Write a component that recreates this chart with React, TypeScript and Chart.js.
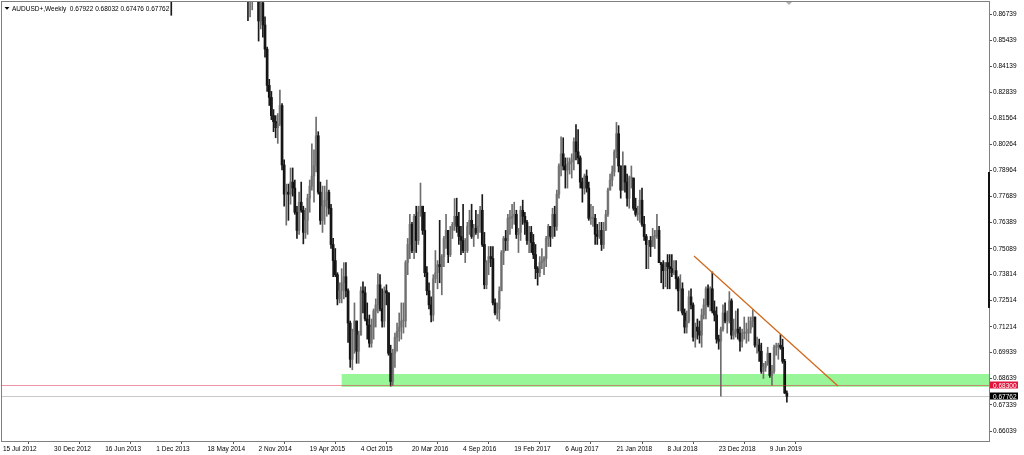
import React, { useEffect, useRef } from "react";
import { Chart, registerables } from "chart.js";

Chart.register(...registerables);

// ---- Data (weekly AUDUSD+, week 0 = week of 15 Jul 2012) ----
const symbolTitle = "AUDUSD+,Weekly";
const firstOpen = 1.033;

const closes = [
  1.0390, 1.0440, 1.0550, 1.0575, 1.0465, 1.0410, 1.0320, 1.0370, 1.0560, 1.0440,
  1.0380, 1.0240, 1.0285, 1.0330, 1.0385, 1.0370, 1.0395, 1.0395, 1.0480, 1.0440,
  1.0495, 1.0520, 1.0470, 1.0390, 1.0515, 1.0550, 1.0510, 1.0440, 1.0425, 1.0290,
  1.0330, 1.0260, 1.0200, 1.0250, 1.0420, 1.0455, 1.0420, 1.0430, 1.0570, 1.0360,
  1.0300, 1.0360, 1.0010, 0.9690, 0.9680, 0.9560, 0.9540, 0.9560, 0.9230, 0.9150,
  0.9060, 0.9180, 0.9240, 0.9290, 0.8960, 0.9070, 0.9180, 0.9010, 0.8930, 0.9120,
  0.9290, 0.9360, 0.9320, 0.9400, 0.9460, 0.9600, 0.9540, 0.9450, 0.9320, 0.9370,
  0.9280, 0.9110, 0.9080, 0.9000, 0.8920, 0.8900, 0.8920, 0.8940, 0.8790, 0.8745,
  0.8750, 0.8950, 0.9040, 0.8990, 0.8930, 0.9040, 0.9050, 0.9100, 0.9260, 0.9280,
  0.9400, 0.9340, 0.9270, 0.9330, 0.9340, 0.9370, 0.9230, 0.9300, 0.9320, 0.9370,
  0.9420, 0.9430, 0.9320, 0.9380, 0.9400, 0.9400, 0.9280, 0.9300, 0.9310, 0.9300,
  0.9350, 0.9320, 0.9010, 0.8960, 0.8760, 0.8750, 0.8760, 0.8780, 0.8800, 0.8770,
  0.8640, 0.8730, 0.8620, 0.8500, 0.8320, 0.8260, 0.8170, 0.8140, 0.8110, 0.8130,
  0.8220, 0.7925, 0.7780, 0.7790, 0.7780, 0.7840, 0.7810, 0.7690, 0.7600, 0.7740,
  0.7700, 0.7590, 0.7650, 0.7760, 0.7820, 0.7870, 0.7920, 0.8070, 0.7790, 0.7650,
  0.7720, 0.7750, 0.7790, 0.7710, 0.7530, 0.7450, 0.7380, 0.7260, 0.7300, 0.7340,
  0.7370, 0.7300, 0.7140, 0.6960, 0.7100, 0.7150, 0.7000, 0.7080, 0.7300, 0.7290,
  0.7160, 0.7130, 0.7040, 0.7120, 0.7200, 0.7230, 0.7330, 0.7210, 0.7150, 0.7300,
  0.7290, 0.6990, 0.6850, 0.6990, 0.7070, 0.7100, 0.7120, 0.7150, 0.7150, 0.7440,
  0.7530, 0.7630, 0.7500, 0.7670, 0.7550, 0.7690, 0.7720, 0.7600, 0.7390, 0.7300,
  0.7230, 0.7180, 0.7360, 0.7390, 0.7430, 0.7420, 0.7470, 0.7560, 0.7600, 0.7480,
  0.7600, 0.7630, 0.7670, 0.7620, 0.7570, 0.7550, 0.7500, 0.7500, 0.7620, 0.7650,
  0.7570, 0.7610, 0.7590, 0.7620, 0.7700, 0.7530, 0.7330, 0.7440, 0.7470, 0.7460,
  0.7240, 0.7190, 0.7210, 0.7300, 0.7490, 0.7560, 0.7550, 0.7660, 0.7660, 0.7670,
  0.7680, 0.7580, 0.7590, 0.7700, 0.7670, 0.7640, 0.7550, 0.7590, 0.7540, 0.7480,
  0.7410, 0.7390, 0.7440, 0.7450, 0.7460, 0.7560, 0.7620, 0.7570, 0.7680, 0.7620,
  0.7780, 0.7920, 0.7980, 0.7920, 0.7900, 0.7930, 0.7940, 0.7950, 0.8040, 0.7990,
  0.7960, 0.7840, 0.7810, 0.7870, 0.7810, 0.7660, 0.7660, 0.7660, 0.7580, 0.7570,
  0.7600, 0.7530, 0.7600, 0.7680, 0.7800, 0.7850, 0.7890, 0.7990, 0.8080, 0.7920,
  0.7800, 0.7920, 0.7840, 0.7760, 0.7860, 0.7860, 0.7710, 0.7680, 0.7680, 0.7750,
  0.7630, 0.7570, 0.7530, 0.7550, 0.7520, 0.7570, 0.7570, 0.7600, 0.7440, 0.7430,
  0.7400, 0.7440, 0.7420, 0.7410, 0.7390, 0.7400, 0.7360, 0.7300, 0.7310, 0.7190,
  0.7120, 0.7150, 0.7270, 0.7230, 0.7070, 0.7120, 0.7100, 0.7080, 0.7180, 0.7230,
  0.7310, 0.7230, 0.7310, 0.7200, 0.7180, 0.7060, 0.7050, 0.7110, 0.7190, 0.7150,
  0.7150, 0.7250, 0.7080, 0.7100, 0.7110, 0.7090, 0.7050, 0.7090, 0.7090, 0.7090,
  0.7110, 0.7150, 0.7170, 0.7030, 0.7030, 0.7000, 0.6900, 0.6920, 0.6940, 0.6990,
  0.6880, 0.6900, 0.7020, 0.7020, 0.7030, 0.7020, 0.6950, 0.67922, 0.67762,
];

const highs = [
  1.0445, 1.0460, 1.0565, 1.0615, 1.0590, 1.0560, 1.0445, 1.0380, 1.0620, 1.0555,
  1.0490, 1.0440, 1.0330, 1.0450, 1.0430, 1.0415, 1.0470, 1.0420, 1.0490, 1.0480,
  1.0530, 1.0560, 1.0535, 1.0495, 1.0600, 1.0570, 1.0600, 1.0560, 1.0480, 1.0430,
  1.0370, 1.0400, 1.0270, 1.0280, 1.0440, 1.0490, 1.0490, 1.0550, 1.0580, 1.0600,
  1.0400, 1.0380, 1.0360, 1.0040, 0.9820, 0.9700, 0.9740, 0.9650, 0.9620, 0.9300,
  0.9230, 0.9240, 0.9300, 0.9320, 0.9330, 0.9180, 0.9230, 0.9210, 0.9050, 0.9130,
  0.9310, 0.9530, 0.9420, 0.9480, 0.9490, 0.9620, 0.9760, 0.9640, 0.9560, 0.9420,
  0.9410, 0.9290, 0.9170, 0.9190, 0.9010, 0.8920, 0.8960, 0.9010, 0.9000, 0.8850,
  0.8860, 0.8960, 0.9080, 0.9060, 0.9030, 0.9130, 0.9130, 0.9110, 0.9270, 0.9300,
  0.9460, 0.9420, 0.9360, 0.9340, 0.9400, 0.9390, 0.9380, 0.9320, 0.9350, 0.9400,
  0.9430, 0.9460, 0.9500, 0.9390, 0.9410, 0.9440, 0.9410, 0.9340, 0.9380, 0.9360,
  0.9370, 0.9400, 0.9360, 0.9100, 0.8990, 0.8800, 0.8900, 0.8830, 0.8840, 0.8910,
  0.8790, 0.8790, 0.8740, 0.8660, 0.8510, 0.8350, 0.8290, 0.8200, 0.8170, 0.8180,
  0.8297, 0.8230, 0.7950, 0.7830, 0.7830, 0.7910, 0.7910, 0.7850, 0.7720, 0.7790,
  0.7840, 0.7720, 0.7710, 0.7780, 0.7850, 0.8030, 0.8000, 0.8163, 0.8090, 0.7840,
  0.7820, 0.7820, 0.7850, 0.7800, 0.7730, 0.7560, 0.7510, 0.7390, 0.7340, 0.7410,
  0.7440, 0.7440, 0.7310, 0.7150, 0.7110, 0.7240, 0.7150, 0.7100, 0.7320, 0.7345,
  0.7320, 0.7240, 0.7180, 0.7160, 0.7210, 0.7260, 0.7385, 0.7380, 0.7310, 0.7320,
  0.7330, 0.7290, 0.7030, 0.7010, 0.7090, 0.7140, 0.7190, 0.7240, 0.7240, 0.7450,
  0.7560, 0.7680, 0.7640, 0.7680, 0.7720, 0.7720, 0.7835, 0.7720, 0.7690, 0.7420,
  0.7340, 0.7270, 0.7380, 0.7500, 0.7450, 0.7650, 0.7480, 0.7570, 0.7680, 0.7600,
  0.7620, 0.7640, 0.7758, 0.7760, 0.7690, 0.7620, 0.7730, 0.7560, 0.7640, 0.7700,
  0.7730, 0.7630, 0.7700, 0.7680, 0.7720, 0.7778, 0.7590, 0.7450, 0.7520, 0.7520,
  0.7520, 0.7260, 0.7240, 0.7320, 0.7500, 0.7570, 0.7600, 0.7680, 0.7700, 0.7730,
  0.7740, 0.7700, 0.7610, 0.7720, 0.7750, 0.7690, 0.7650, 0.7620, 0.7620, 0.7580,
  0.7530, 0.7420, 0.7470, 0.7510, 0.7470, 0.7570, 0.7630, 0.7620, 0.7710, 0.7720,
  0.7800, 0.7930, 0.8065, 0.8060, 0.7960, 0.7960, 0.7960, 0.7980, 0.8060, 0.8125,
  0.8100, 0.7970, 0.7860, 0.7880, 0.7900, 0.7840, 0.7730, 0.7720, 0.7680, 0.7630,
  0.7640, 0.7640, 0.7640, 0.7700, 0.7810, 0.7880, 0.7920, 0.8000, 0.8136, 0.8120,
  0.7920, 0.7990, 0.7920, 0.7880, 0.7870, 0.7920, 0.7860, 0.7760, 0.7720, 0.7800,
  0.7810, 0.7670, 0.7580, 0.7550, 0.7570, 0.7610, 0.7600, 0.7680, 0.7620, 0.7440,
  0.7450, 0.7440, 0.7480, 0.7480, 0.7480, 0.7450, 0.7450, 0.7370, 0.7380, 0.7340,
  0.7210, 0.7200, 0.7300, 0.7310, 0.7240, 0.7140, 0.7160, 0.7150, 0.7210, 0.7260,
  0.7320, 0.7330, 0.7320, 0.7394, 0.7250, 0.7220, 0.7080, 0.7120, 0.7230, 0.7240,
  0.7200, 0.7296, 0.7260, 0.7160, 0.7200, 0.7210, 0.7120, 0.7110, 0.7170, 0.7140,
  0.7170, 0.7170, 0.7206, 0.7170, 0.7070, 0.7060, 0.7040, 0.6940, 0.6950, 0.7020,
  0.6990, 0.6930, 0.7030, 0.7040, 0.7040, 0.7082, 0.7060, 0.6960, 0.68032,
];

const lows = [
  1.0270, 1.0205, 1.0430, 1.0485, 1.0440, 1.0385, 1.0305, 1.0165, 1.0360, 1.0400,
  1.0350, 1.0150, 1.0150, 1.0240, 1.0270, 1.0330, 1.0340, 1.0350, 1.0380, 1.0380,
  1.0410, 1.0460, 1.0420, 1.0360, 1.0390, 1.0450, 1.0470, 1.0410, 1.0400, 1.0270,
  1.0280, 1.0220, 1.0115, 1.0180, 1.0200, 1.0370, 1.0400, 1.0350, 1.0420, 1.0230,
  1.0230, 1.0240, 0.9980, 0.9680, 0.9600, 0.9530, 0.9500, 0.9410, 0.9190, 0.9100,
  0.9040, 0.8990, 0.9080, 0.9150, 0.8920, 0.8850, 0.9040, 0.8960, 0.8850, 0.8890,
  0.9100, 0.9240, 0.9260, 0.9300, 0.9360, 0.9420, 0.9530, 0.9420, 0.9300, 0.9240,
  0.9240, 0.9100, 0.9000, 0.8960, 0.8820, 0.8830, 0.8880, 0.8880, 0.8760, 0.8668,
  0.8740, 0.8760, 0.8880, 0.8930, 0.8890, 0.8890, 0.8920, 0.8980, 0.9060, 0.9170,
  0.9220, 0.9280, 0.9240, 0.9240, 0.9280, 0.9260, 0.9200, 0.9210, 0.9200, 0.9280,
  0.9320, 0.9380, 0.9300, 0.9290, 0.9310, 0.9350, 0.9280, 0.9240, 0.9270, 0.9280,
  0.9250, 0.9300, 0.9000, 0.8920, 0.8740, 0.8641, 0.8660, 0.8695, 0.8745, 0.8745,
  0.8540, 0.8600, 0.8560, 0.8460, 0.8290, 0.8220, 0.8150, 0.8090, 0.8060, 0.8032,
  0.8120, 0.7900, 0.7720, 0.7626, 0.7650, 0.7730, 0.7770, 0.7680, 0.7560, 0.7580,
  0.7690, 0.7533, 0.7560, 0.7580, 0.7690, 0.7800, 0.7740, 0.7890, 0.7780, 0.7630,
  0.7590, 0.7630, 0.7670, 0.7680, 0.7510, 0.7370, 0.7370, 0.7230, 0.7240, 0.7240,
  0.7260, 0.7270, 0.7044, 0.6920, 0.6908, 0.6990, 0.6940, 0.6940, 0.7080, 0.7190,
  0.7150, 0.7060, 0.7020, 0.7020, 0.7060, 0.7120, 0.7190, 0.7200, 0.7120, 0.7120,
  0.7230, 0.6980, 0.6827, 0.6830, 0.6920, 0.7000, 0.7050, 0.7060, 0.7090, 0.7120,
  0.7380, 0.7460, 0.7490, 0.7460, 0.7490, 0.7530, 0.7670, 0.7580, 0.7370, 0.7280,
  0.7210, 0.7145, 0.7150, 0.7340, 0.7310, 0.7340, 0.7280, 0.7420, 0.7510, 0.7440,
  0.7470, 0.7560, 0.7600, 0.7590, 0.7530, 0.7480, 0.7490, 0.7440, 0.7490, 0.7580,
  0.7560, 0.7520, 0.7580, 0.7560, 0.7590, 0.7520, 0.7310, 0.7310, 0.7380, 0.7420,
  0.7230, 0.7180, 0.7160, 0.7150, 0.7300, 0.7430, 0.7500, 0.7500, 0.7580, 0.7610,
  0.7630, 0.7560, 0.7490, 0.7550, 0.7630, 0.7580, 0.7530, 0.7490, 0.7490, 0.7460,
  0.7360, 0.7328, 0.7370, 0.7410, 0.7380, 0.7420, 0.7520, 0.7520, 0.7560, 0.7570,
  0.7600, 0.7760, 0.7870, 0.7900, 0.7810, 0.7810, 0.7880, 0.7860, 0.7900, 0.7950,
  0.7930, 0.7810, 0.7740, 0.7780, 0.7790, 0.7650, 0.7630, 0.7620, 0.7530, 0.7530,
  0.7560, 0.7500, 0.7510, 0.7600, 0.7670, 0.7800, 0.7820, 0.7870, 0.7960, 0.7890,
  0.7760, 0.7800, 0.7790, 0.7720, 0.7710, 0.7810, 0.7700, 0.7670, 0.7650, 0.7640,
  0.7620, 0.7550, 0.7410, 0.7410, 0.7470, 0.7520, 0.7510, 0.7560, 0.7440, 0.7340,
  0.7310, 0.7320, 0.7310, 0.7310, 0.7370, 0.7380, 0.7310, 0.7200, 0.7200, 0.7180,
  0.7090, 0.7090, 0.7140, 0.7210, 0.7050, 0.7020, 0.7060, 0.7040, 0.7020, 0.7160,
  0.7160, 0.7220, 0.7200, 0.7190, 0.7150, 0.7040, 0.7010, 0.6777, 0.7100, 0.7140,
  0.7090, 0.7140, 0.7060, 0.7060, 0.7070, 0.7060, 0.7000, 0.7020, 0.7060, 0.7040,
  0.7050, 0.7090, 0.7120, 0.7020, 0.6990, 0.6950, 0.6890, 0.6865, 0.6900, 0.6930,
  0.6870, 0.6832, 0.6890, 0.6980, 0.6960, 0.7010, 0.6940, 0.6790, 0.67476,
];

const xTickWeeks = [0, 24, 48, 72, 96, 120, 144, 168, 192, 216, 240, 264, 288, 312, 336, 360];
const xTickLabels = [
  "15 Jul 2012", "30 Dec 2012", "16 Jun 2013", "1 Dec 2013", "18 May 2014", "2 Nov 2014",
  "19 Apr 2015", "4 Oct 2015", "20 Mar 2016", "4 Sep 2016", "19 Feb 2017", "6 Aug 2017",
  "21 Jan 2018", "8 Jul 2018", "23 Dec 2018", "9 Jun 2019",
];
const yTickValues = [
  0.86739, 0.85439, 0.84139, 0.82839, 0.81564, 0.80264, 0.78964, 0.77689, 0.76389,
  0.75089, 0.73814, 0.72514, 0.71214, 0.69939, 0.68639, 0.67339, 0.66039,
];

// support zone, level line, trend line
const zoneTop = 0.6887;
const zoneBottom = 0.6823;
const zoneFromWeek = 159;
const levelLine = 0.683;
const trendWeeks = [324.4, 392];
const trendPrices = [0.7473, 0.6827];
const scaleMarkPrices = [0.789, 0.7215];
const shiftMarkWeek = 369;

const FONT = '"Liberation Sans", Arial, sans-serif';
const FS = 6.5;

export default function App() {
  const ref = useRef<HTMLCanvasElement>(null);

  useEffect(() => {
    const canvas = ref.current!;
    const opens = closes.map((c, i) => (i === 0 ? firstOpen : closes[i - 1]));
    const isBull = (i: number) => closes[i] >= opens[i];
    const n = closes.length - 1;
    const bid = closes[n];

    const overlay = {
      id: "overlay",
      beforeDatasetsDraw(chart: any) {
        const { ctx, chartArea: a, scales } = chart;
        const xs = scales.x;
        const ys = scales.y;
        ctx.save();
        // green zone
        const zx = xs.getPixelForValue(zoneFromWeek);
        const zt = ys.getPixelForValue(zoneTop);
        const zb = ys.getPixelForValue(zoneBottom);
        ctx.fillStyle = "#98f598";
        ctx.fillRect(zx, zt, a.right - zx, zb - zt);
        // bid line
        const by = Math.round(ys.getPixelForValue(bid)) + 0.5;
        ctx.strokeStyle = "#c8c8c8";
        ctx.lineWidth = 1;
        ctx.beginPath();
        ctx.moveTo(a.left, by);
        ctx.lineTo(a.right, by);
        ctx.stroke();
        // title
        ctx.fillStyle = "#000";
        ctx.beginPath();
        ctx.moveTo(4.5, 7);
        ctx.lineTo(9.5, 7);
        ctx.lineTo(7, 9.8);
        ctx.closePath();
        ctx.fill();
        ctx.font = `${FS}px ${FONT}`;
        ctx.textBaseline = "alphabetic";
        ctx.textAlign = "left";
        const f = (v: number) => v.toFixed(5);
        ctx.fillText(`${symbolTitle}  ${f(opens[n])} ${f(highs[n])} ${f(lows[n])} ${f(closes[n])}`, 12, 10.5);
        ctx.restore();
      },
      afterDatasetsDraw(chart: any) {
        const { ctx, chartArea: a, scales } = chart;
        const xs = scales.x;
        const ys = scales.y;
        ctx.save();
        // level line
        const ly = Math.round(ys.getPixelForValue(levelLine)) + 0.5;
        ctx.strokeStyle = "rgba(225,40,70,0.5)";
        ctx.lineWidth = 1;
        ctx.beginPath();
        ctx.moveTo(a.left, ly);
        ctx.lineTo(a.right, ly);
        ctx.stroke();
        // trend line
        ctx.strokeStyle = "#d2691e";
        ctx.lineWidth = 1.3;
        ctx.beginPath();
        ctx.moveTo(xs.getPixelForValue(trendWeeks[0]), ys.getPixelForValue(trendPrices[0]));
        ctx.lineTo(xs.getPixelForValue(trendWeeks[1]), ys.getPixelForValue(trendPrices[1]));
        ctx.stroke();
        ctx.restore();
      },
      afterDraw(chart: any) {
        const { ctx, chartArea: a, scales } = chart;
        const xs = scales.x;
        const ys = scales.y;
        ctx.save();
        // frame
        ctx.strokeStyle = "#808080";
        ctx.lineWidth = 1;
        ctx.strokeRect(a.left + 0.5, a.top + 0.5, a.right - a.left, a.bottom - a.top);
        // dark segment on the right frame
        ctx.fillStyle = "#111";
        const s0 = ys.getPixelForValue(scaleMarkPrices[0]);
        const s1 = ys.getPixelForValue(scaleMarkPrices[1]);
        ctx.fillRect(a.right - 1, s0, 2, s1 - s0);
        // chart shift marker
        const sx = xs.getPixelForValue(shiftMarkWeek);
        ctx.fillStyle = "#b0b0b0";
        ctx.beginPath();
        ctx.moveTo(sx - 3, a.top + 1);
        ctx.lineTo(sx + 3, a.top + 1);
        ctx.lineTo(sx, a.top + 4);
        ctx.closePath();
        ctx.fill();
        // price tags
        ctx.font = `${FS}px ${FONT}`;
        ctx.textBaseline = "middle";
        ctx.textAlign = "left";
        const tag = (v: number, bg: string) => {
          const y = ys.getPixelForValue(v);
          ctx.fillStyle = bg;
          ctx.fillRect(a.right + 1, Math.round(y) - 3.5, 28, 7);
          ctx.fillStyle = "#fff";
          ctx.fillText(v.toFixed(5), a.right + 4, y + 0.5);
        };
        tag(levelLine, "#e0163c");
        tag(bid, "#000");
        ctx.restore();
      },
    };

    const wickData = closes.map((_, i) => ({ x: i, y: [lows[i], highs[i]] }));
    const bodyData = closes.map((c, i) => ({ x: i, y: [opens[i], c] }));

    const chart = new Chart(canvas, {
      type: "bar",
      data: {
        datasets: [
          {
            label: "wick",
            data: wickData as any,
            barThickness: 1,
            grouped: false,
            clip: 0,
            backgroundColor: (ctx: any) =>
              ctx.dataIndex !== undefined && isBull(ctx.dataIndex) ? "#6e6e6e" : "#1a1a1a",
            borderWidth: 0,
          } as any,
          {
            label: "body",
            data: bodyData as any,
            barThickness: 2,
            grouped: false,
            clip: 0,
            minBarLength: 1,
            backgroundColor: (ctx: any) =>
              ctx.dataIndex !== undefined && isBull(ctx.dataIndex) ? "#9c9c9c" : "#000000",
            borderWidth: 0,
          } as any,
        ],
      },
      options: {
        responsive: false,
        animation: false,
        devicePixelRatio: 1,
        layout: { padding: { top: 1, left: 1, right: 0, bottom: 0 } },
        plugins: { legend: { display: false }, tooltip: { enabled: false } },
        scales: {
          x: {
            type: "linear",
            min: -0.94,
            max: 462.9,
            offset: false,
            afterBuildTicks: (s: any) => {
              s.ticks = xTickWeeks.map((v) => ({ value: v }));
            },
            afterFit: (s: any) => {
              s.height = 14;
              s.paddingLeft = 0;
              s.paddingRight = 0;
            },
            ticks: {
              autoSkip: false,
              maxRotation: 0,
              minRotation: 0,
              align: "start",
              padding: 1,
              color: "#000",
              font: { family: FONT, size: FS },
              callback: (_v: any, idx: number) => xTickLabels[idx],
            },
            grid: { drawOnChartArea: false, drawTicks: true, tickLength: 3, color: "#555" },
            border: { display: false },
          },
          y: {
            type: "linear",
            position: "right",
            min: 0.65543,
            max: 0.8739,
            afterBuildTicks: (s: any) => {
              s.ticks = yTickValues.map((v) => ({ value: v }));
            },
            afterFit: (s: any) => {
              s.width = 35;
              s.paddingTop = 0;
              s.paddingBottom = 0;
            },
            ticks: {
              autoSkip: false,
              padding: 1,
              color: "#000",
              font: { family: FONT, size: FS },
              callback: (v: any) => Number(v).toFixed(5),
            },
            grid: { drawOnChartArea: false, drawTicks: true, tickLength: 3, color: "#555" },
            border: { display: false },
          },
        },
      } as any,
      plugins: [overlay],
    });

    return () => chart.destroy();
  }, []);

  return (
    <canvas
      ref={ref}
      width={1024}
      height={455}
      style={{ position: "fixed", left: 0, top: 0, width: 1024, height: 455, background: "#fff" }}
    />
  );
}
